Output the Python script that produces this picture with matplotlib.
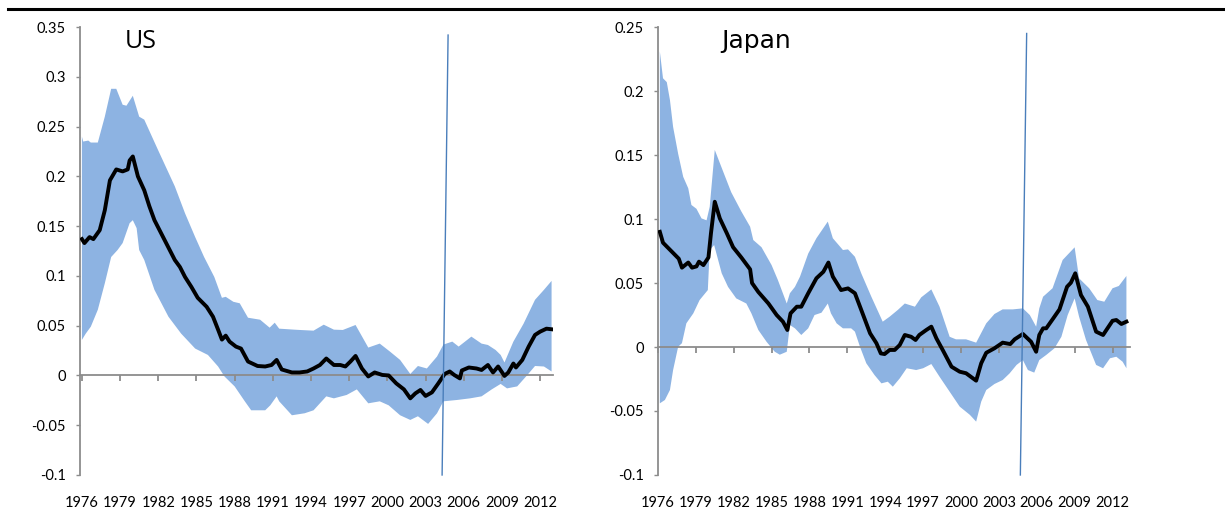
import numpy as np
import matplotlib.pyplot as plt
from matplotlib.lines import Line2D

plt.rcParams['font.family'] = ['Lato', 'DejaVu Sans']

# ---- US: point estimate and confidence band ----
us_yr = [1976.0, 1976.2, 1976.6, 1976.9, 1977.4, 1977.8, 1978.2, 1978.7, 1979.2, 1979.6,
         1979.75, 1980.0, 1980.4, 1980.9, 1981.3, 1981.7, 1982.5, 1983.3, 1983.7, 1984.1,
         1984.6, 1985.1, 1985.8, 1986.3, 1986.7, 1987.0, 1987.3, 1987.6, 1988.1, 1988.5,
         1989.05, 1989.8, 1990.4, 1990.9, 1991.3, 1991.7, 1992.5, 1993.1, 1993.7, 1994.2,
         1994.7, 1995.2, 1995.8, 1996.3, 1996.7, 1997.1, 1997.5, 1998.0, 1998.5, 1999.0,
         1999.6, 2000.1, 2000.7, 2001.3, 2001.8, 2002.2, 2002.6, 2003.0, 2003.5, 2004.0,
         2004.5, 2004.9, 2005.25, 2005.7, 2005.85, 2006.4, 2007.0, 2007.4, 2007.9, 2008.3,
         2008.7, 2009.2, 2009.5, 2009.9, 2010.1, 2010.6, 2011.1, 2011.6, 2012.0, 2012.5,
         2012.9]
us_mid = [0.137, 0.133, 0.139, 0.137, 0.146, 0.166, 0.196, 0.207, 0.205, 0.207,
          0.216, 0.220, 0.200, 0.186, 0.170, 0.156, 0.136, 0.116, 0.109, 0.099,
          0.089, 0.078, 0.069, 0.059, 0.046, 0.036, 0.040, 0.034, 0.029, 0.027,
          0.014, 0.0095, 0.009, 0.0105, 0.0156, 0.006, 0.003, 0.003, 0.004, 0.007,
          0.0105, 0.017, 0.0105, 0.0105, 0.009, 0.014, 0.0196, 0.007, -0.001, 0.003,
          0.0005, 0.0, -0.008, -0.014, -0.023, -0.018, -0.0146, -0.0206, -0.017, -0.008,
          0.0015, 0.004, 0.0005, -0.003, 0.005, 0.008, 0.007, 0.0055, 0.0105, 0.003,
          0.009, -0.0005, 0.003, 0.012, 0.008, 0.0156, 0.029, 0.0407, 0.044, 0.047,
          0.0464]

us_hi_yr = [1976.0, 1976.1, 1976.5, 1976.7, 1977.25, 1977.8, 1978.3, 1978.7, 1979.2, 1979.5,
            1980.0, 1980.5, 1980.9, 1982.0, 1983.3, 1984.1, 1984.9, 1985.6, 1986.4, 1987.0,
            1987.3, 1987.9, 1988.4, 1989.05, 1990.0, 1990.75, 1991.15, 1991.5, 1992.7, 1993.1,
            1994.2, 1995.0, 1995.8, 1996.5, 1997.5, 1998.5, 1999.4, 2000.2, 2001.0, 2001.8,
            2002.4, 2003.1, 2003.9, 2004.4, 2005.1, 2005.6, 2006.6, 2007.4, 2007.9, 2008.5,
            2008.9, 2009.2, 2009.9, 2010.7, 2011.6, 2012.3, 2012.9]
us_hi = [0.240, 0.235, 0.236, 0.234, 0.234, 0.260, 0.288, 0.288, 0.272, 0.271,
         0.281, 0.260, 0.257, 0.226, 0.190, 0.163, 0.139, 0.119, 0.099, 0.078,
         0.079, 0.074, 0.0725, 0.058, 0.056, 0.048, 0.053, 0.047, 0.046, 0.0457,
         0.045, 0.051, 0.046, 0.0457, 0.0507, 0.028, 0.032, 0.024, 0.0156, 0.0015,
         0.0095, 0.007, 0.019, 0.031, 0.034, 0.029, 0.039, 0.032, 0.0306, 0.0256,
         0.0206, 0.013, 0.034, 0.052, 0.076, 0.086, 0.095]

us_lo_yr = [1976.0, 1976.3, 1976.7, 1977.25, 1977.8, 1978.3, 1978.8, 1979.2, 1979.75, 1980.0,
            1980.3, 1980.5, 1980.9, 1981.7, 1982.8, 1983.8, 1984.9, 1985.9, 1986.7, 1987.2,
            1988.0, 1988.8, 1989.3, 1990.4, 1990.8, 1991.3, 1991.5, 1992.5, 1993.5, 1994.2,
            1995.2, 1995.8, 1996.8, 1997.6, 1998.5, 1999.4, 2000.1, 2001.0, 2001.8, 2002.4,
            2003.2, 2003.9, 2004.4, 2005.5, 2006.5, 2007.4, 2008.2, 2008.9, 2009.4, 2010.2,
            2011.0, 2011.6, 2012.3, 2012.9]
us_lo = [0.0357, 0.042, 0.049, 0.066, 0.0926, 0.119, 0.126, 0.133, 0.153, 0.156,
         0.148, 0.126, 0.116, 0.086, 0.059, 0.042, 0.027, 0.0206, 0.009, -0.001,
         -0.011, -0.026, -0.035, -0.035, -0.030, -0.021, -0.026, -0.040, -0.038, -0.035,
         -0.021, -0.023, -0.0196, -0.014, -0.028, -0.026, -0.030, -0.040, -0.0447, -0.041,
         -0.0487, -0.038, -0.026, -0.0246, -0.023, -0.021, -0.014, -0.0085, -0.013, -0.011,
         0.0005, 0.0095, 0.009, 0.004]

# ---- Japan ----
jp_yr = [1976.15, 1976.4, 1976.95, 1977.35, 1977.65, 1977.9, 1978.4, 1978.7, 1979.05, 1979.25,
         1979.6, 1980.0, 1980.2, 1980.5, 1980.9, 1981.45, 1981.95, 1982.6, 1983.3, 1983.45,
         1983.95, 1984.75, 1985.4, 1985.9, 1986.25, 1986.5, 1987.0, 1987.35, 1987.9, 1988.55,
         1989.1, 1989.5, 1989.85, 1990.5, 1991.05, 1991.6, 1992.1, 1992.8, 1993.3, 1993.65,
         1993.95, 1994.35, 1994.75, 1995.15, 1995.55, 1996.05, 1996.4, 1996.7, 1997.25, 1997.65,
         1998.05, 1998.55, 1999.25, 1999.9, 2000.4, 2001.2, 2001.6, 2002.0, 2002.65, 2003.3,
         2003.9, 2004.25, 2004.9, 2005.55, 2005.95, 2006.2, 2006.5, 2006.75, 2007.25, 2007.8,
         2008.4, 2008.7, 2009.05, 2009.5, 2010.05, 2010.7, 2011.25, 2011.6, 2012.0, 2012.3,
         2012.7, 2013.1]
jp_mid = [0.090, 0.0815, 0.076, 0.072, 0.069, 0.062, 0.066, 0.062, 0.063, 0.0667,
          0.064, 0.070, 0.089, 0.1135, 0.1005, 0.089, 0.078, 0.070, 0.0607, 0.050,
          0.043, 0.034, 0.025, 0.0198, 0.0133, 0.0263, 0.0315, 0.0315, 0.042, 0.0537,
          0.0588, 0.066, 0.055, 0.0445, 0.0458, 0.042, 0.029, 0.0107, 0.003, -0.005,
          -0.0055, -0.0023, -0.0023, 0.0016, 0.0094, 0.008, 0.0055, 0.0094, 0.0133, 0.0159,
          0.0068, -0.0023, -0.0154, -0.0193, -0.0205, -0.0263, -0.0127, -0.0045, -0.001, 0.0034,
          0.0023, 0.006, 0.0102, 0.0041, -0.0037, 0.0094, 0.0146, 0.0146, 0.0216, 0.0294,
          0.0471, 0.0502, 0.0576, 0.0406, 0.0315, 0.012, 0.0094, 0.0146, 0.0205, 0.0211,
          0.018, 0.0198]

jp_hi_yr = [1976.15, 1976.4, 1976.7, 1976.95, 1977.2, 1977.6, 1978.0, 1978.4, 1978.65, 1979.05,
            1979.45, 1979.85, 1980.1, 1980.5, 1981.05, 1981.8, 1982.6, 1983.3, 1983.55, 1984.2,
            1985.0, 1985.5, 1986.2, 1986.45, 1986.85, 1987.25, 1987.9, 1988.55, 1989.45, 1989.85,
            1990.65, 1991.05, 1991.6, 1992.1, 1992.9, 1993.8, 1994.35, 1995.0, 1995.55, 1996.35,
            1996.85, 1997.65, 1998.3, 1999.1, 1999.6, 2000.4, 2001.2, 2002.0, 2002.65, 2003.3,
            2004.1, 2004.9, 2005.45, 2005.95, 2006.2, 2006.5, 2007.25, 2008.05, 2009.0, 2009.35,
            2010.15, 2010.8, 2011.35, 2012.0, 2012.5, 2013.1]
jp_hi = [0.231, 0.210, 0.207, 0.193, 0.172, 0.151, 0.133, 0.124, 0.111, 0.108,
         0.1005, 0.099, 0.1096, 0.154, 0.140, 0.121, 0.106, 0.094, 0.0836, 0.078,
         0.064, 0.0523, 0.034, 0.042, 0.047, 0.055, 0.073, 0.085, 0.098, 0.085,
         0.0758, 0.0763, 0.0705, 0.0576, 0.0393, 0.0198, 0.0237, 0.029, 0.034, 0.0315,
         0.0388, 0.045, 0.0315, 0.008, 0.006, 0.006, 0.0034, 0.0185, 0.0258, 0.0294,
         0.0294, 0.0302, 0.025, 0.0159, 0.0302, 0.0393, 0.0459, 0.068, 0.0779, 0.0537,
         0.0459, 0.0367, 0.0354, 0.0459, 0.0477, 0.0555]

jp_lo_yr = [1976.15, 1976.55, 1976.95, 1977.2, 1977.6, 1977.9, 1978.25, 1978.8, 1979.3, 1979.95,
            1980.1, 1980.45, 1981.05, 1981.55, 1982.2, 1983.0, 1983.4, 1983.95, 1984.6, 1985.25,
            1985.65, 1986.2, 1986.45, 1986.85, 1987.35, 1987.9, 1988.4, 1988.95, 1989.45, 1989.7,
            1990.15, 1990.65, 1991.3, 1991.6, 1992.0, 1992.5, 1993.15, 1993.7, 1994.2, 1994.6,
            1995.15, 1995.7, 1996.45, 1997.0, 1997.65, 1998.3, 1999.1, 1999.9, 2000.7, 2001.2,
            2001.6, 2002.0, 2002.65, 2003.3, 2003.85, 2004.4, 2004.9, 2005.3, 2005.8, 2006.2,
            2006.75, 2007.4, 2007.95, 2008.45, 2009.0, 2009.35, 2009.9, 2010.7, 2011.25, 2011.8,
            2012.3, 2012.8, 2013.1]
jp_lo = [-0.044, -0.0414, -0.0336, -0.018, 0.0002, 0.003, 0.0185, 0.0263, 0.0367, 0.0445,
         0.0758, 0.0797, 0.0576, 0.047, 0.038, 0.034, 0.0263, 0.0133, 0.0041, -0.0037,
         -0.006, -0.0037, 0.0172, 0.0146, 0.0094, 0.0146, 0.025, 0.0268, 0.034, 0.0263,
         0.0185, 0.0146, 0.0146, 0.012, 0.0002, -0.0127, -0.0219, -0.0284, -0.0271, -0.031,
         -0.0245, -0.0166, -0.018, -0.0166, -0.0133, -0.0232, -0.0349, -0.0466, -0.053, -0.0583,
         -0.0427, -0.0336, -0.0289, -0.0258, -0.0206, -0.014, -0.0102, -0.018, -0.020, -0.0102,
         -0.0062, -0.001, 0.008, 0.025, 0.038, 0.0237, 0.0055, -0.014, -0.0166, -0.0088,
         -0.0076, -0.0115, -0.0166]

year_ticks = list(range(1976, 2013, 3))

band_col = '#8db3e2'
axis_col = '#8c8c8c'
vline_col = '#4a7ebb'

fig = plt.figure(figsize=(12.25, 5.16), dpi=100)
fig.add_artist(Line2D([0.0065, 1.0], [0.9835, 0.9835], color='black', lw=2.2))


def panel(rect, xlim, ylim, yt, mid_x, mid, hi_x, hi, lo_x, lo, vline, title, title_x, title_font):
    ax = fig.add_axes(rect)
    ax.fill(np.r_[hi_x, lo_x[::-1]], np.r_[hi, lo[::-1]], color=band_col, lw=0, zorder=1)
    ax.plot(mid_x, mid, color='black', lw=2.8, zorder=3, solid_joinstyle='round')
    ax.plot(vline[0], vline[1], color=vline_col, lw=1.0, zorder=4, clip_on=False)
    ax.set_xlim(*xlim)
    ax.set_ylim(*ylim)

    for s in ['top', 'right']:
        ax.spines[s].set_visible(False)
    ax.spines['left'].set_color(axis_col)
    ax.spines['left'].set_linewidth(1.3)
    ax.spines['bottom'].set_position(('data', 0))
    ax.spines['bottom'].set_color(axis_col)
    ax.spines['bottom'].set_linewidth(1.3)

    ax.set_yticks(yt)
    ax.set_yticklabels(['0' if abs(v) < 1e-9 else ('%g' % v) for v in yt])
    ax.tick_params(axis='y', direction='out', length=3, width=1, color=axis_col,
                   labelsize=10.5, pad=7)
    ax.set_xticks(year_ticks)
    ax.tick_params(axis='x', direction='out', length=4, width=1.3, color=axis_col,
                   labelbottom=False)

    sec = ax.secondary_xaxis(0.0)
    sec.set_xticks(year_ticks)
    sec.set_xticklabels([str(y) for y in year_ticks])
    sec.tick_params(length=0, labelsize=10.5, pad=15)
    sec.spines['bottom'].set_visible(False)

    ax.text(title_x, 0.995, title, transform=ax.transAxes, ha='left', va='top',
            fontsize=18, family=title_font)
    return ax


panel([0.0653, 0.0795, 0.386, 0.868], (1975.85, 2013.0), (-0.1, 0.35),
      np.round(np.arange(-0.1, 0.351, 0.05), 2),
      us_yr, us_mid, us_hi_yr, us_hi, us_lo_yr, us_lo,
      ([2004.77, 2004.3], [0.342, -0.1]), 'US', 0.095, ['Open Sans', 'DejaVu Sans'])

panel([0.5371, 0.0795, 0.385, 0.868], (1976.0, 2013.35), (-0.1, 0.25),
      np.round(np.arange(-0.1, 0.251, 0.05), 2),
      jp_yr, jp_mid, jp_hi_yr, jp_hi, jp_lo_yr, jp_lo,
      ([2005.2, 2004.7], [0.245, -0.1]), 'Japan', 0.135, ['DejaVu Sans'])

fig.savefig('out.png', dpi=100)
